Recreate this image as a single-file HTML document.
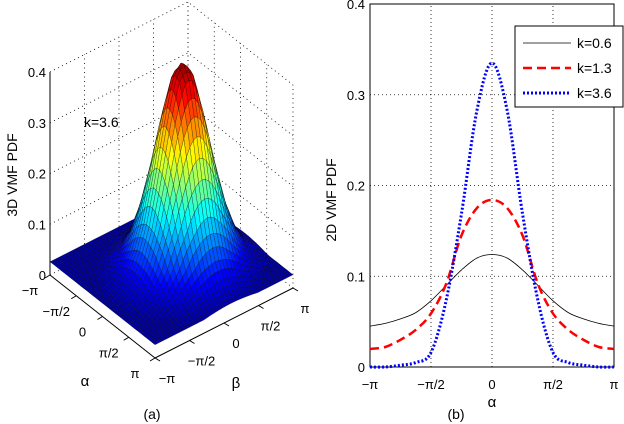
<!DOCTYPE html>
<html><head><meta charset="utf-8"><style>
html,body{margin:0;padding:0;background:#fff}
svg{display:block;font-family:"Liberation Sans",sans-serif}
</style></head><body>
<svg id="fig" width="624" height="424" viewBox="0 0 624 424">
<g id="left"></g>
<g id="right"></g>
</svg>
<script>
// ---- 2D chart data ----
const alphaTicks = ["\u2212\u03c0","\u2212\u03c0/2","0","\u03c0/2","\u03c0"];
const yTicks = [0,0.1,0.2,0.3,0.4];
const yTickLabels = ["0","0.1","0.2","0.3","0.4"];
const seriesNames = ["k=0.6","k=1.3","k=3.6"];
// samples at alpha = -pi .. pi step pi/8 (17 points)
const k06 = [0.045,0.048,0.053,0.060,0.073,0.090,0.107,0.120,0.124,0.120,0.107,0.090,0.073,0.060,0.053,0.048,0.045];
const k13 = [0.020,0.022,0.030,0.041,0.059,0.092,0.145,0.175,0.184,0.175,0.145,0.092,0.059,0.041,0.030,0.022,0.020];
const k36 = [0.000,0.000,0.002,0.005,0.016,0.074,0.169,0.282,0.335,0.282,0.169,0.074,0.016,0.005,0.002,0.000,0.000];
// ---- 3D surface data ----
const zTicks = [0,0.1,0.2,0.3,0.4];
const surfacePeak = [0.435];
// normalized radial profile at distance 0..pi step pi/8
const surfaceProfile = [1.0,0.93,0.74,0.52,0.33,0.20,0.12,0.08,0.06];

const NS="http://www.w3.org/2000/svg";
function mk(parent,tag,attrs,text){const e=document.createElementNS(NS,tag);for(const k in attrs)e.setAttribute(k,attrs[k]);if(text!==undefined)e.textContent=text;parent.appendChild(e);return e;}

// ===== Right chart =====
const R=document.getElementById('right');
const X0=370,X1=614,Y0=367,Y1=4;
const xs=a=>X0+(a+Math.PI)/(2*Math.PI)*(X1-X0);
const ys=v=>Y0-(v/0.4)*(Y0-Y1);
const rbg=mk(R,'rect',{x:X0,y:Y1,width:X1-X0,height:Y0-Y1,fill:'#fff',stroke:'#000','stroke-width':1});


for(let i=0;i<5;i++){
  const x=X0+i*(X1-X0)/4;
  if(i>0&&i<4){const g=mk(R,'line',{x1:x,y1:Y0,x2:x,y2:Y1,stroke:'#000','stroke-width':0.8,'stroke-dasharray':'1,3'});
  }
  const t=mk(R,'text',{x:x,y:389,'font-size':13,'text-anchor':'middle'},alphaTicks[i]);
  
}
yTicks.forEach((v,i)=>{
  const y=ys(v);
  if(i>0&&i<4){const g=mk(R,'line',{x1:X0,y1:y,x2:X1,y2:y,stroke:'#000','stroke-width':0.8,'stroke-dasharray':'1,3'});
  }
  const t=mk(R,'text',{x:365,y:y+5,'font-size':13,'text-anchor':'end'},yTickLabels[i]);
  
});
function pathFor(arr){
  const n=arr.length;
  const pts=arr.map((v,i)=>[xs(-Math.PI+i*2*Math.PI/(n-1)),ys(v)]);
  let d='M'+pts[0][0].toFixed(1)+','+pts[0][1].toFixed(1);
  for(let i=0;i<n-1;i++){
    const p0=pts[Math.max(0,i-1)],p1=pts[i],p2=pts[i+1],p3=pts[Math.min(n-1,i+2)];
    const c1=[p1[0]+(p2[0]-p0[0])/6,p1[1]+(p2[1]-p0[1])/6];
    const c2=[p2[0]-(p3[0]-p1[0])/6,p2[1]-(p3[1]-p1[1])/6];
    d+='C'+c1[0].toFixed(1)+','+c1[1].toFixed(1)+' '+c2[0].toFixed(1)+','+c2[1].toFixed(1)+' '+p2[0].toFixed(1)+','+p2[1].toFixed(1);
  }
  return d;
}
const styles=[{c:'#000',w:0.8,d:''},{c:'#ff0000',w:2.5,d:'9,5'},{c:'#0000ff',w:3,d:'2,2'}];
[k06,k13,k36].forEach((arr,i)=>{
  const p=mk(R,'path',{d:pathFor(arr),fill:'none',stroke:styles[i].c,'stroke-width':styles[i].w,'stroke-dasharray':styles[i].d,'stroke-linejoin':'round'});
  
  
});
const lg=mk(R,'g',{});

mk(lg,'rect',{x:515,y:26,width:108,height:81,fill:'#fff',stroke:'#000','stroke-width':1});
seriesNames.forEach((s,i)=>{
  const y=43+i*25;
  const e=mk(lg,'g',{});
  
  mk(e,'line',{x1:523,y1:y,x2:571,y2:y,stroke:styles[i].c,'stroke-width':styles[i].w,'stroke-dasharray':styles[i].d});
  mk(e,'text',{x:577,y:y+5,'font-size':14},s);
});
let t=mk(R,'text',{x:492,y:407,'font-size':15,'text-anchor':'middle'},'\u03b1');

t=mk(R,'text',{x:456,y:419,'font-size':14,'text-anchor':'middle'},'(b)');

t=mk(R,'text',{x:0,y:0,'font-size':14,'text-anchor':'middle',transform:'translate(336,200) rotate(-90)'},'2D VMF PDF');


// ===== Left 3D chart =====
const L=document.getElementById('left');
const O=[50,275],U=[105,83],V=[138,-70],ZS=507.5;
function P(u,v,z){return [O[0]+u*U[0]+v*V[0], O[1]+u*U[1]+v*V[1]-z*ZS];}
const dot={stroke:'#000','stroke-width':0.8,'stroke-dasharray':'1,3.5',fill:'none'};
for(let i=0;i<5;i++){
  const f=i/4;
  let a=P(0,f,0),b=P(0,f,0.4);
  let g=mk(L,'line',Object.assign({x1:a[0],y1:a[1],x2:b[0],y2:b[1]},dot));
  
  a=P(f,1,0);b=P(f,1,0.4);
  g=mk(L,'line',Object.assign({x1:a[0],y1:a[1],x2:b[0],y2:b[1]},dot));
  
}
zTicks.forEach((z,i)=>{
  let a=P(0,0,z),b=P(0,1,z),c=P(1,1,z);
  let g=mk(L,'polyline',Object.assign({points:a.join(',')+' '+b.join(',')+' '+c.join(',')},dot));
  
  const tt=mk(L,'text',{x:46,y:a[1]+5,'font-size':13,'text-anchor':'end'},i===0?'0':z.toFixed(1));
  
});
function prof(d){d=Math.min(Math.abs(d),Math.PI);const s=d/(Math.PI/8);const i=Math.min(Math.floor(s),7);const f=s-i;return surfaceProfile[i]*(1-f)+surfaceProfile[i+1]*f;}
function zf(u,v){const a=(u-0.54)*2*Math.PI,b=(v-0.55)*2*Math.PI;return surfacePeak[0]*prof(Math.sqrt(a*a+b*b));}
function jet(t){t=Math.max(0,Math.min(1,t));const r=Math.max(0,Math.min(1,1.5-Math.abs(4*t-3))),g=Math.max(0,Math.min(1,1.5-Math.abs(4*t-2))),b=Math.max(0,Math.min(1,1.5-Math.abs(4*t-1)));return 'rgb('+Math.round(r*255)+','+Math.round(g*255)+','+Math.round(b*255)+')';}
const N=40,cells=[];
for(let i=0;i<N;i++)for(let j=0;j<N;j++)cells.push([i,j,(i/N)-(j/N)]);
cells.sort((a,b)=>a[2]-b[2]);
const surf=mk(L,'g',{});

const zmax=surfacePeak[0];
cells.forEach(([i,j])=>{
  const u0=i/N,u1=(i+1)/N,v0=j/N,v1=(j+1)/N;
  const z00=zf(u0,v0),z10=zf(u1,v0),z11=zf(u1,v1),z01=zf(u0,v1);
  const pts=[P(u0,v0,z00),P(u1,v0,z10),P(u1,v1,z11),P(u0,v1,z01)].map(p=>p[0].toFixed(1)+','+p[1].toFixed(1)).join(' ');
  const zc=(z00+z10+z11+z01)/4;
  const c=jet(0.03+0.97*(zc/zmax-0.06)/0.94);
  mk(surf,'polygon',{points:pts,fill:c,stroke:'#000','stroke-width':0.35,'stroke-opacity':0.7});
});
let a=P(0,0,0),b=P(0,0,0.4);
let ax=mk(L,'line',{x1:a[0],y1:a[1],x2:b[0],y2:b[1],stroke:'#000','stroke-width':1});

a=P(0,0,0);b=P(1,0,0);
ax=mk(L,'line',{x1:a[0],y1:a[1],x2:b[0],y2:b[1],stroke:'#000','stroke-width':1});

a=P(1,0,0);b=P(1,1,0);
ax=mk(L,'line',{x1:a[0],y1:a[1],x2:b[0],y2:b[1],stroke:'#000','stroke-width':1});

alphaTicks.forEach((s,i)=>{
  const f=i/4;let p=P(f,0,0);
  mk(L,'line',{x1:p[0],y1:p[1],x2:p[0]-5,y2:p[1]+3,stroke:'#000','stroke-width':1});
  const tt=mk(L,'text',{x:p[0]-20,y:p[1]+20,'font-size':13,'text-anchor':'middle'},s);
  
  p=P(1,f,0);
  mk(L,'line',{x1:p[0],y1:p[1],x2:p[0]+5,y2:p[1]+3,stroke:'#000','stroke-width':1});
  const tb=mk(L,'text',{x:p[0]+12,y:p[1]+25,'font-size':13,'text-anchor':'middle'},s);
  
});
t=mk(L,'text',{x:85,y:386,'font-size':15,'text-anchor':'middle'},'\u03b1');

t=mk(L,'text',{x:236,y:388,'font-size':15,'text-anchor':'middle'},'\u03b2');

t=mk(L,'text',{x:152,y:419,'font-size':14,'text-anchor':'middle'},'(a)');

t=mk(L,'text',{x:84,y:127,'font-size':14},'k=3.6');

t=mk(L,'text',{x:0,y:0,'font-size':14,'text-anchor':'middle',transform:'translate(17,175) rotate(-90)'},'3D VMF PDF');

</script>
</body></html>
